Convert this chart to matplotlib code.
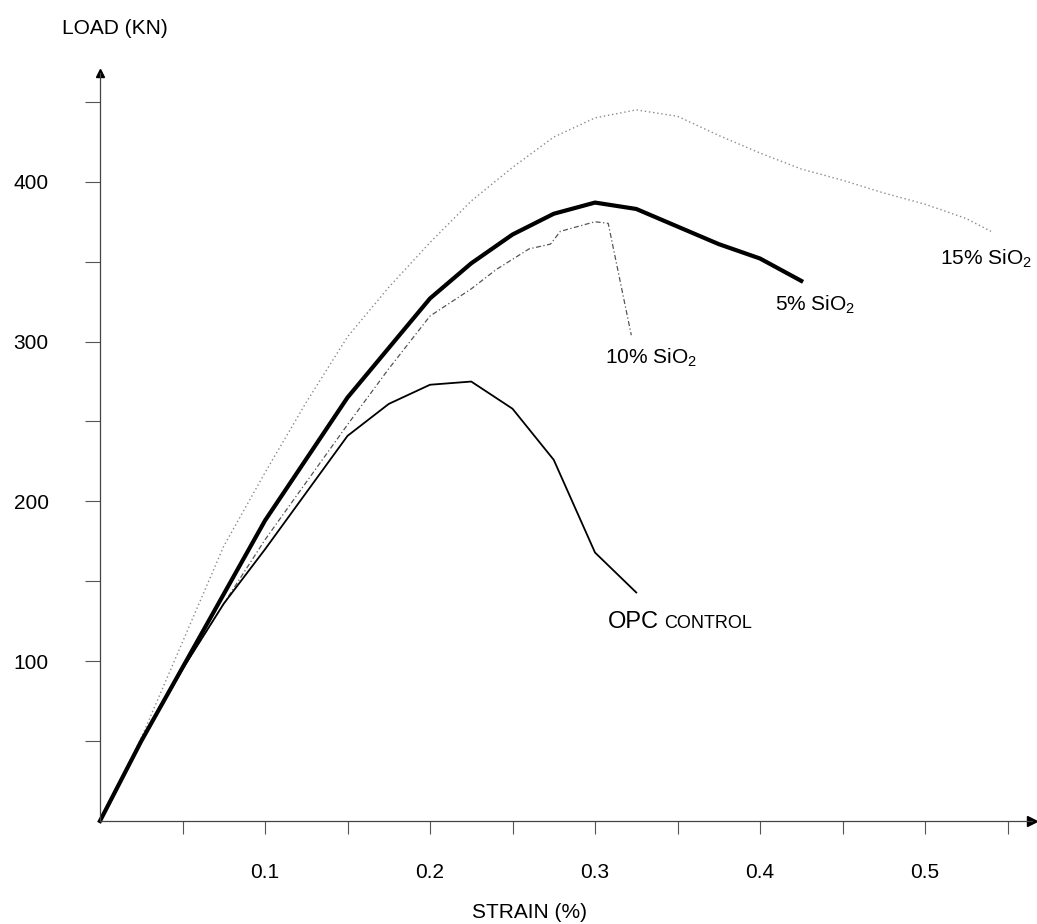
import matplotlib
matplotlib.use("Agg")
import matplotlib.pyplot as plt

plt.rcParams['font.family'] = ['Liberation Sans', 'DejaVu Sans']
plt.rcParams['mathtext.fontset'] = 'custom'
plt.rcParams['mathtext.rm'] = 'Liberation Sans'
plt.rcParams['mathtext.it'] = 'Liberation Sans'
plt.rcParams['mathtext.bf'] = 'Liberation Sans'

# ---- data (strain %, load kN) ----
strain_5 = [0, 0.025, 0.05, 0.075, 0.1, 0.15, 0.2, 0.225, 0.25, 0.275, 0.3, 0.325, 0.35, 0.375, 0.4, 0.425]
load_5 = [0, 50, 96, 142, 188, 265, 327, 349, 367, 380, 387, 383, 372, 361, 352, 338]

strain_10 = [0, 0.025, 0.05, 0.075, 0.1, 0.125, 0.15, 0.175, 0.2, 0.225, 0.24, 0.26, 0.273, 0.279, 0.3, 0.308, 0.322]
load_10 = [0, 50, 95, 136, 176, 212, 248, 283, 316, 333, 345, 358, 361, 369, 375, 374, 304]

strain_15 = [0, 0.025, 0.05, 0.075, 0.1, 0.125, 0.15, 0.175, 0.2, 0.225, 0.25, 0.275, 0.3, 0.325, 0.35, 0.375, 0.4, 0.425, 0.45, 0.475, 0.5, 0.525, 0.54]
load_15 = [0, 52, 112, 172, 218, 262, 303, 334, 362, 388, 409, 428, 440, 445, 441, 429, 418, 408, 401, 393, 386, 377, 369]

strain_opc = [0, 0.025, 0.05, 0.075, 0.1, 0.15, 0.175, 0.2, 0.225, 0.25, 0.275, 0.3, 0.325]
load_opc = [0, 50, 95, 136, 170, 241, 261, 273, 275, 258, 226, 168, 143]

x_major = [0.1, 0.2, 0.3, 0.4, 0.5]
x_minor = [0.05, 0.15, 0.25, 0.35, 0.45, 0.55]
y_major = [100, 200, 300, 400]
y_minor = [50, 150, 250, 350, 450]

W, H = 1037, 924
fig = plt.figure(figsize=(W / 100, H / 100), dpi=100)
x0, y0 = 100, 821
xs, ys = 1650, 1.598
xmax, ymax = 0.565, 468
ax = fig.add_axes([x0 / W, (H - y0) / H, xmax * xs / W, ymax * ys / H])
ax.set_xlim(0, xmax)
ax.set_ylim(0, ymax)

for s in ['top', 'right']:
    ax.spines[s].set_visible(False)
for s in ['left', 'bottom']:
    ax.spines[s].set_color('#444444')
    ax.spines[s].set_linewidth(0.9)

ax.plot(1, 0, '>', color='black', markersize=7, transform=ax.get_yaxis_transform(), clip_on=False)
ax.plot(0, 1, '^', color='black', markersize=6, transform=ax.get_xaxis_transform(), clip_on=False)

ax.plot(strain_15, load_15, color='#8a8a8a', lw=1.0, linestyle=(0, (1, 2)), clip_on=False)
ax.plot(strain_10, load_10, color='#555555', lw=0.9, linestyle=(0, (4, 2, 1, 2)), clip_on=False)
ax.plot(strain_opc, load_opc, color='black', lw=1.3, clip_on=False)
ax.plot(strain_5, load_5, color='black', lw=3.0, clip_on=False)

ax.set_xticks(x_major)
ax.set_xticklabels([f"{v:.1f}" for v in x_major])
ax.set_xticks(x_minor, minor=True)
ax.set_yticks(y_major)
ax.set_yticklabels([str(v) for v in y_major])
ax.set_yticks(y_minor, minor=True)
ax.tick_params(axis='x', which='both', direction='out', length=9, width=0.8, color='#555555', pad=21, labelsize=15)
ax.tick_params(axis='y', which='both', direction='out', length=11, width=0.8, color='#555555', pad=26, labelsize=15)

fs = 15
ax.text(0.509, 352, '15% SiO$_2$', fontsize=fs, ha='left', va='center')
ax.text(0.409, 323, '5% SiO$_2$', fontsize=fs, ha='left', va='center')
ax.text(0.306, 290, '10% SiO$_2$', fontsize=fs, ha='left', va='center')
ax.text(0.308, 121, 'OPC', fontsize=17, ha='left', va='baseline')
ax.text(0.342, 121, 'CONTROL', fontsize=13, ha='left', va='baseline')

fig.text(62 / W, 1 - 28 / H, 'LOAD (KN)', fontsize=15, ha='left', va='center')
fig.text(472 / W, 1 - 913 / H, 'STRAIN (%)', fontsize=15, ha='left', va='center')

fig.savefig('out.png', dpi=100, facecolor='white')
